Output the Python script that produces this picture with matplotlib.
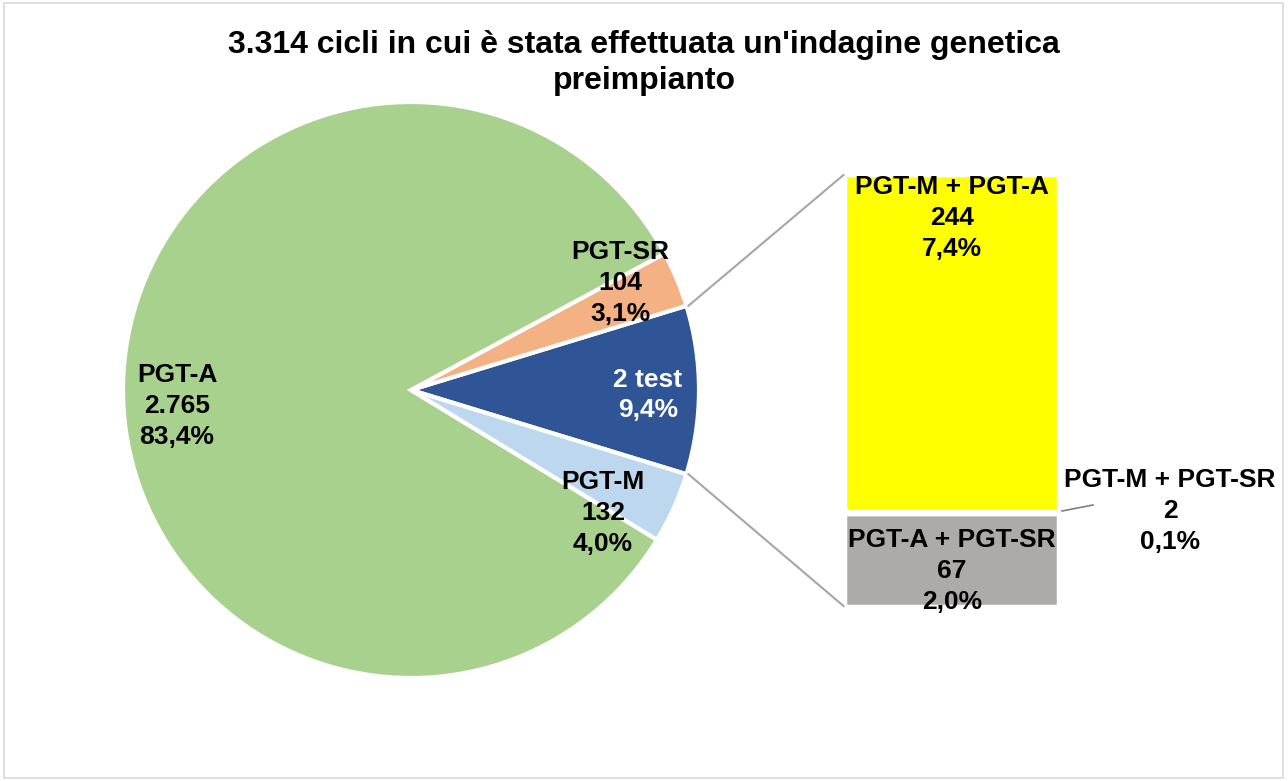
import numpy as np
import matplotlib
matplotlib.use("Agg")
import matplotlib.pyplot as plt
from matplotlib.patches import Rectangle

plt.rcParams['font.family'] = ['Liberation Sans', 'DejaVu Sans']

# ---- data ----
title = "3.314 cicli in cui è stata effettuata un'indagine genetica\npreimpianto"
pie_labels = ["2 test", "PGT-SR", "PGT-A", "PGT-M"]
pie_values = [313, 104, 2765, 132]
pie_colors = ["#2F5597", "#F4B183", "#A9D18E", "#BDD7EE"]

bar_labels = ["PGT-A + PGT-SR", "PGT-M + PGT-SR", "PGT-M + PGT-A"]
bar_values = [67, 2, 244]
bar_colors = ["#AEAAAA", "#FFFFFF", "#FFFF00"]

total = sum(pie_values)


def it_num(v):
    return f"{v:,}".replace(",", ".")


def it_pct(v):
    return f"{v / total * 100:.1f}%".replace(".", ",")


W, H = 1288, 781
fig = plt.figure(figsize=(W / 100, H / 100), dpi=100)
ax = fig.add_axes([0, 0, 1, 1])


def Y(py):
    return H - py


# ---- pie ----
cx, cy, r = 411, Y(390), 288
half = pie_values[0] / total * 360 / 2
ax.pie(pie_values, colors=pie_colors, startangle=-half, counterclock=True,
       center=(cx, cy), radius=r, frame=True,
       wedgeprops=dict(edgecolor="white", linewidth=3))
ax.set_xlim(0, W)
ax.set_ylim(0, H)
ax.set_aspect("equal")
ax.axis("off")

# border
ax.add_patch(Rectangle((4, Y(778)), 1279, 775, fill=False, ec="#D9D9D9", lw=1.2))

# ---- bar ----
bx, bw = 952, 213
bar_bottom = Y(606)
bar_top = Y(175)
scale = (bar_top - bar_bottom) / sum(bar_values)
bottom = bar_bottom
for v, c in zip(bar_values, bar_colors):
    ax.bar(bx, v * scale, width=bw, bottom=bottom, color=c,
           edgecolor="white", linewidth=2.5)
    bottom += v * scale

# connector lines
ang = np.deg2rad(half)
p_top = (cx + r * np.cos(ang), cy + r * np.sin(ang))
p_bot = (cx + r * np.cos(-ang), cy + r * np.sin(-ang))
ax.plot([p_top[0] + 2, bx - bw / 2 - 2], [p_top[1], bar_top], color="#A6A6A6", lw=1.5)
ax.plot([p_bot[0] + 2, bx - bw / 2 - 2], [p_bot[1], bar_bottom], color="#A6A6A6", lw=1.5)

# leader line for tiny segment
ax.plot([1062, 1093], [Y(511), Y(505)], color="#7F7F7F", lw=1.2)

# ---- labels ----
fs = 19
kw = dict(ha="center", va="center", fontsize=fs, fontweight="bold", linespacing=1.35)

ax.text(177, Y(406), f"{pie_labels[2]}\n{it_num(pie_values[2])}\n{it_pct(pie_values[2])}", color="black", **kw)
ax.text(620, Y(283), f"{pie_labels[1]}\n{it_num(pie_values[1])}\n{it_pct(pie_values[1])}", color="black", **kw)
ax.text(648, Y(395), f"{pie_labels[0]}\n{it_pct(pie_values[0])}", color="white", **kw)
ax.text(603, Y(513), f"{pie_labels[3]}\n{it_num(pie_values[3])}\n{it_pct(pie_values[3])}", color="black", **kw)

ax.text(952, Y(218), f"{bar_labels[2]}\n{it_num(bar_values[2])}\n{it_pct(bar_values[2])}", color="black", **kw)
ax.text(952, Y(571), f"{bar_labels[0]}\n{it_num(bar_values[0])}\n{it_pct(bar_values[0])}", color="black", **kw)
ax.text(1170, Y(511), f"{bar_labels[1]}\n{it_num(bar_values[1])}\n{it_pct(bar_values[1])}", color="black", **kw)

# title
ax.text(644, Y(63), title, ha="center", va="center", fontsize=23, fontweight="bold",
        linespacing=1.28)

fig.savefig("out.png", dpi=100)
